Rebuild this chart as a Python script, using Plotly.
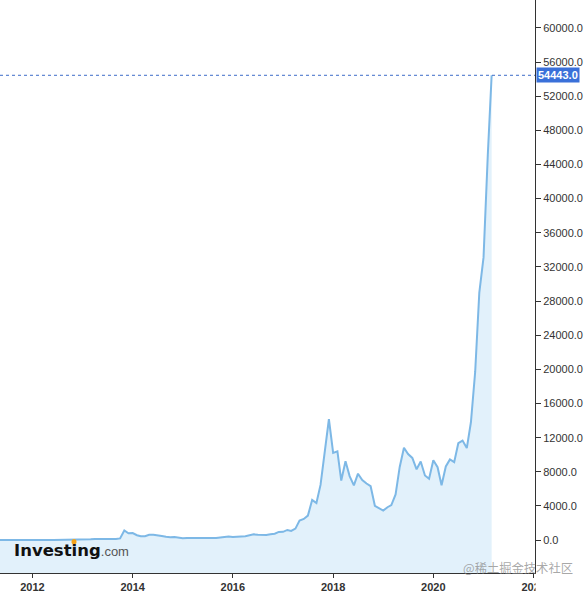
import plotly.graph_objects as go
import pandas as pd

# Monthly BTC/USD closing prices (Investing.com), May 2011 - Mar 2021
start_month = "2011-05-01"
prices = [
    8.7, 16.1, 13.4, 8.2, 5.1, 3.2, 3.0, 4.7,                       # 2011 May-Dec
    5.5, 4.9, 4.9, 5.0, 5.2, 6.7, 9.3, 10.2, 12.4, 11.2, 12.6, 13.5,  # 2012
    20.4, 33.4, 93.0, 139.0, 129.0, 97.0, 106.0, 135.0, 133.0, 204.0, 1129.0, 805.0,  # 2013
    833.0, 573.0, 458.0, 446.0, 628.0, 639.0, 586.0, 481.0, 387.0, 338.0, 378.0, 320.0,  # 2014
    217.0, 254.0, 244.0, 236.0, 230.0, 264.0, 284.0, 230.0, 236.0, 314.0, 377.0, 430.0,  # 2015
    368.0, 437.0, 416.0, 448.0, 531.0, 673.0, 624.0, 575.0, 609.0, 698.0, 742.0, 963.0,  # 2016
    970.0, 1190.0, 1079.0, 1348.0, 2286.0, 2480.0, 2875.0, 4703.0, 4338.0, 6468.0, 10233.0, 14156.0,  # 2017
    10221.0, 10397.0, 6973.0, 9240.0, 7494.0, 6404.0, 7780.0, 7037.0, 6625.0, 6318.0, 4017.0, 3742.0,  # 2018
    3457.0, 3854.0, 4105.0, 5350.0, 8574.0, 10817.0, 10085.0, 9630.0, 8293.0, 9199.0, 7569.0, 7193.0,  # 2019
    9350.0, 8544.0, 6424.0, 8629.0, 9455.0, 9137.0, 11351.0, 11655.0, 10776.0, 13804.0, 19698.0, 28949.0,  # 2020
    33114.0, 45137.0, 54443.0,                                        # 2021 Jan-Mar
]
dates = pd.date_range(start_month, periods=len(prices), freq="MS")
last_price = prices[-1]

y_ticks = list(range(0, 60001, 4000))
x_ticks = ["2012-01-01", "2014-01-01", "2016-01-01", "2018-01-01", "2020-01-01", "2022-01-01"]
x_range = ["2011-05-10", "2022-01-11"]
y_range = [-3852, 63262]

line_color = "#7db8e6"
fill_color = "#e2f1fb"
tick_color = "#333333"

fig = go.Figure()
# baseline at the bottom of the plotting area for the area fill
fig.add_trace(go.Scatter(x=dates, y=[y_range[0]] * len(prices), mode="lines",
                         line=dict(width=0, color=fill_color), hoverinfo="skip", showlegend=False))
fig.add_trace(go.Scatter(x=dates, y=prices, mode="lines", fill="tonexty", fillcolor=fill_color,
                         line=dict(color=line_color, width=2), showlegend=False))

fig.add_shape(type="line", xref="paper", x0=0, x1=1, yref="y", y0=last_price, y1=last_price,
              line=dict(color="#3d6bc8", width=1, dash="dot"))
# hide the part of the last year label that runs past the price axis
fig.add_shape(type="rect", xref="paper", x0=1.001, x1=1.2, yref="paper", y0=-0.2, y1=-0.002,
              fillcolor="white", line=dict(width=0), layer="above")

fig.add_annotation(xref="paper", x=1, xanchor="left", xshift=1, yref="y", y=last_price,
                   yanchor="middle", text=f"{last_price:.1f}", showarrow=False,
                   bgcolor="#3a70d9", borderpad=1,
                   font=dict(family="Liberation Sans, Arial", size=11, color="white", weight="bold"))

# Investing.com logo
fig.add_annotation(xref="paper", x=12 / 535, xanchor="left", yref="paper", y=0.040, yanchor="middle",
                   text="<b>Investing</b><span style='font-size:13px;color:#555555;font-family:Liberation Sans'>.com</span>",
                   showarrow=False, font=dict(family="DejaVu Sans", size=16.5, color="#111111"))
fig.add_shape(type="circle", xref="paper", yref="paper",
              x0=71.5 / 535, x1=76.5 / 535, y0=(575 - 546.5) / 575, y1=(575 - 541) / 575,
              fillcolor="#f5a31a", line=dict(width=0), layer="above")

fig.add_annotation(xref="paper", x=461 / 535, xanchor="left", yref="paper", y=0.009, yanchor="middle",
                   text="@稀土掘金技术社区", showarrow=False,
                   font=dict(family="Noto Sans CJK SC", size=12.3, color="rgba(140,140,140,0.75)"))

fig.update_layout(
    width=588, height=593,
    margin=dict(l=0, r=53, t=0, b=18),
    plot_bgcolor="white", paper_bgcolor="white",
    showlegend=False,
    xaxis=dict(type="date", range=x_range, tickvals=x_ticks, tickformat="%Y",
               ticks="outside", ticklen=4, tickcolor=tick_color, showline=True, linecolor=tick_color,
               linewidth=1, showgrid=False, zeroline=False,
               tickfont=dict(family="Liberation Sans, Arial", size=11, color=tick_color, weight="bold")),
    yaxis=dict(side="right", range=y_range, tickvals=y_ticks, tickformat=".1f",
               ticks="outside", ticklen=5, tickcolor=tick_color, showline=True, linecolor=tick_color,
               linewidth=1, showgrid=False, zeroline=False,
               tickfont=dict(family="Liberation Sans, Arial", size=11, color=tick_color)),
)

fig.write_html("out.html", config={"displayModeBar": False},
               post_script="document.body.style.margin='0';document.body.style.overflow='hidden';")
